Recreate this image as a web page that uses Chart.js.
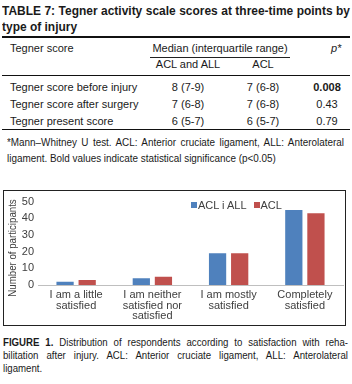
<!DOCTYPE html>
<html>
<head>
<meta charset="utf-8">
<script src="https://cdn.jsdelivr.net/npm/chart.js@4"></script>
<style>
  body { margin: 0; width: 352px; height: 384px; background: #fff; position: relative; overflow: hidden;
         font-family: "Liberation Sans", Arial, sans-serif; color: #1a1a1a; }
  .abs { position: absolute; white-space: nowrap; }
  .line { position: absolute; transform-origin: 0 0; }
  .rule { position: absolute; left: 2px; width: 348px; background: #111; }
  .cell { position: absolute; font-size: 11px; line-height: 13px; }
  .c { transform: translateX(-50%); text-align: center; }
  #box { position: absolute; left: 3px; top: 190px; width: 341px; height: 134px; border: 1px solid #222; }
  #legend { position: absolute; left: 187px; top: 8px; font-size: 11px; display: flex; align-items: center; color: #404040; }
  #legend span.sw { display: inline-block; width: 6px; height: 6px; margin-right: 1px; }
</style>
</head>
<body>
<!-- table title -->
<div class="line fit" data-w="348" data-s="0.92" data-j="1" style="left:2px;top:3px;font-weight:bold;font-size:13px">TABLE 7: Tegner activity scale scores at three-time points by</div>
<div class="line fit" data-w="348" data-s="0.92" style="left:2px;top:19px;font-weight:bold;font-size:13px">type of injury</div>
<div class="rule" style="top:36px;height:2px"></div>

<div class="cell abs" style="left:10px;top:42px">Tegner score</div>
<div class="cell abs" style="left:150px;top:42px;padding-bottom:2px;border-bottom:1px solid #222;width:140px;text-align:center">Median (interquartile range)</div>
<div class="cell abs" style="left:331px;top:42px;font-style:italic">p*</div>
<div class="cell abs c" style="left:188px;top:58px">ACL and ALL</div>
<div class="cell abs c" style="left:263px;top:58px">ACL</div>
<div class="rule" style="top:75px;height:1px"></div>

<div id="rows"></div>
<div class="rule" style="top:129px;height:1px"></div>

<!-- footnote -->
<div class="line fit" data-w="337" data-s="0.9" data-j="1" style="left:7px;top:136px;font-size:11px">*Mann–Whitney U test. ACL: Anterior cruciate ligament, ALL: Anterolateral</div>
<div class="line fit" data-w="337" data-s="0.9" style="left:7px;top:152px;font-size:11px">ligament. Bold values indicate statistical significance (p&lt;0.05)</div>

<div id="box">
  <canvas id="chart" width="341" height="134"></canvas>
  <div id="legend"></div>
</div>

<!-- figure caption -->
<div class="line fit" data-w="345" data-s="0.84" data-j="1" style="left:3px;top:336px;font-size:11.5px"><b>FIGURE 1.</b> Distribution of respondents according to satisfaction with reha-</div>
<div class="line fit" data-w="345" data-s="0.84" data-j="1" style="left:3px;top:349px;font-size:11.5px">bilitation after injury. ACL: Anterior cruciate ligament, ALL: Anterolateral</div>
<div class="line fit" data-w="345" data-s="0.84" style="left:3px;top:362px;font-size:11.5px">ligament.</div>

<script>
// table data
const rowLabels = ['Tegner score before injury', 'Tegner score after surgery', 'Tegner present score'];
const aclAllMedian = ['8 (7-9)', '7 (6-8)', '6 (5-7)'];
const aclMedian = ['7 (6-8)', '7 (6-8)', '6 (5-7)'];
const pValues = ['0.008', '0.43', '0.79'];

// chart data
const categories = [
    ['I am a little', 'satisfied'],
    ['I am neither', 'satisfied nor', 'satisfied'],
    ['I am mostly', 'satisfied'],
    ['Completely', 'satisfied']
];
const seriesNames = ['ACL i ALL', 'ACL'];
const aclAllValues = [2, 4, 19, 45];
const aclValues = [3, 5, 19, 43];
const yTicks = [0, 10, 20, 30, 40, 50];
const yTitle = 'Number of participants';
const colors = ['#4F81BD', '#C0504D'];

// build table rows
const rowTops = [81, 98, 115];
document.getElementById('rows').innerHTML = rowLabels.map((label, i) => `
    <div class="cell abs" style="left:10px;top:${rowTops[i]}px">${label}</div>
    <div class="cell abs c" style="left:188px;top:${rowTops[i]}px">${aclAllMedian[i]}</div>
    <div class="cell abs c" style="left:263px;top:${rowTops[i]}px">${aclMedian[i]}</div>
    <div class="cell abs c" style="left:327px;top:${rowTops[i]}px;${i === 0 ? 'font-weight:bold' : ''}">${pValues[i]}</div>
`).join('');

// squeeze text lines like the narrow print font, justify full lines
document.querySelectorAll('.fit').forEach(el => {
    const target = +el.dataset.w;
    el.style.whiteSpace = 'nowrap';
    const natural = el.getBoundingClientRect().width;
    let s = +el.dataset.s;
    if (el.dataset.j) s = Math.min(s, target / (natural + 1));
    el.style.whiteSpace = 'normal';
    el.style.width = (target / s) + 'px';
    el.style.transform = `scaleX(${s})`;
    if (el.dataset.j) {
        el.style.textAlign = 'justify';
        el.style.textAlignLast = 'justify';
    }
});

// legend
document.getElementById('legend').innerHTML = seriesNames.map((name, i) => `
    <span class="sw" style="background:${colors[i]}"></span><span style="margin-right:${i === 0 ? 7 : 0}px">${name}</span>
`).join('');

// y axis title, a bit condensed like the original
const yTitlePlugin = {
    id: 'yTitle',
    afterDraw(chart) {
        const ctx = chart.ctx;
        ctx.save();
        ctx.translate(9, 57);
        ctx.rotate(-Math.PI / 2);
        ctx.scale(0.88, 1);
        ctx.font = '11px "Liberation Sans"';
        ctx.fillStyle = '#404040';
        ctx.textAlign = 'center';
        ctx.textBaseline = 'middle';
        ctx.fillText(yTitle, 0, 0);
        ctx.restore();
    }
};

new Chart(document.getElementById('chart'), {
    type: 'bar',
    data: {
        labels: categories,
        datasets: [{
            label: seriesNames[0],
            data: aclAllValues,
            backgroundColor: colors[0],
            categoryPercentage: 0.58,
            barPercentage: 0.78
        }, {
            label: seriesNames[1],
            data: aclValues,
            backgroundColor: colors[1],
            categoryPercentage: 0.58,
            barPercentage: 0.78
        }]
    },
    options: {
        responsive: false,
        animation: false,
        layout: { padding: { top: 9, right: 2, bottom: 2, left: 0 } },
        plugins: {
            legend: { display: false },
            tooltip: { enabled: false }
        },
        scales: {
            x: {
                grid: { display: false, drawTicks: false },
                border: { color: '#BFBFBF', width: 1 },
                ticks: {
                    color: '#404040', padding: 5, maxRotation: 0, autoSkip: false,
                    font: { family: 'Liberation Sans', size: 11, lineHeight: 0.95 }
                },
                afterFit: s => { s.height = 38; }
            },
            y: {
                min: 0, max: 50,
                afterBuildTicks: s => { s.ticks = yTicks.map(v => ({ value: v })); },
                grid: { display: false, drawTicks: false },
                border: { display: false },
                ticks: { color: '#404040', padding: 4, font: { family: 'Liberation Sans', size: 11 } },
                afterFit: s => { s.width = 34; }
            }
        }
    },
    plugins: [yTitlePlugin]
});
</script>
</body>
</html>
